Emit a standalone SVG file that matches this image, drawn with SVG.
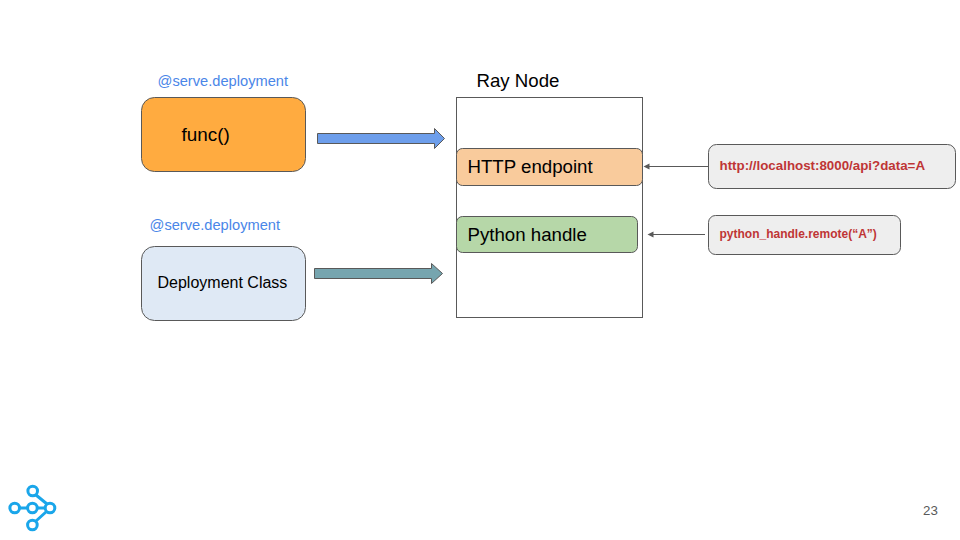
<svg xmlns="http://www.w3.org/2000/svg" width="960" height="540" viewBox="0 0 960 540">
<style>
text{font-family:"Liberation Sans",Arial,sans-serif}
.box{stroke:#595959;stroke-width:1}
.deco{font-size:14.67px;fill:#4a86e8}
.big{font-size:18.67px;fill:#000}
.url{font-weight:bold;fill:#bf3535}
.ar{stroke:#595959;stroke-width:1}
.lg{fill:none;stroke:#1aa6ea;stroke-width:3}
</style>
<rect width="960" height="540" fill="#fff"/>
<g id="ray-node">
<rect x="456.500" y="97.500" width="186" height="220" fill="#fff" stroke="#595959"/>
<text x="476.500" y="87" class="big">Ray Node</text>
</g>
<g id="func">
<text x="157.500" y="86" class="deco">@serve.deployment</text>
<rect class="box" x="141.500" y="97.500" width="164" height="74" rx="13" fill="#ffab40"/>
<text x="181.500" y="141" class="big" style="font-size:18.9px">func()</text>
</g>
<g id="deployment-class">
<text x="149.500" y="230" class="deco">@serve.deployment</text>
<rect class="box" x="141.500" y="246.500" width="164" height="74" rx="13" fill="#dfe9f5"/>
<text x="157.500" y="287.500" font-size="16" fill="#000">Deployment Class</text>
</g>
<g id="http-endpoint">
<rect class="box" x="456.500" y="148.500" width="186" height="37" rx="6" fill="#f9cb9c"/>
<text x="467.500" y="173" class="big">HTTP endpoint</text>
</g>
<g id="python-handle">
<rect class="box" x="456.500" y="216.500" width="181" height="36" rx="6" fill="#b6d7a8"/>
<text x="467.500" y="241" class="big">Python handle</text>
</g>
<g id="url-call">
<rect class="box" x="708.500" y="144.500" width="247" height="44" rx="8" fill="#eeeeee"/>
<text x="719.500" y="170" class="url" font-size="13.330">http://localhost:8000/api?data=A</text>
</g>
<g id="handle-call">
<rect class="box" x="708.500" y="215.500" width="192" height="39" rx="7" fill="#eeeeee"/>
<text x="719.500" y="237.500" class="url" font-size="12">python_handle.remote(“A”)</text>
</g>
<g id="connectors">
<path class="ar" d="M317.500 133.500H434.500V128.500L444.500 138.500L434.500 148.500V143.500H317.500Z" fill="#6d9eeb"/>
<path class="ar" d="M314.500 268.500H431.500V263.500L442.500 273.500L431.500 283.500V278.500H314.500Z" fill="#76a5af"/>
<path d="M708 166.500H649" stroke="#595959" fill="none"/><path d="M643.500 166.500L649.500 163.500V169.500Z" fill="#595959"/>
<path d="M705 234.500H653" stroke="#595959" fill="none"/><path d="M647.500 234.500L653.500 231.500V237.500Z" fill="#595959"/>
</g>
<g id="logo" class="lg">
<path d="M36 495L47 504M19.500 508H28M37 508H45.500M36 521L46.500 511.500"/>
<circle cx="32.700" cy="491" r="4.800"/><circle cx="14.700" cy="508" r="4.800"/><circle cx="32.400" cy="508" r="4.800"/><circle cx="50" cy="508" r="4.800"/><circle cx="32.400" cy="525" r="4.800"/>
</g>
<text id="page" x="923" y="515" font-size="13.300" fill="#595959">23</text>
</svg>
